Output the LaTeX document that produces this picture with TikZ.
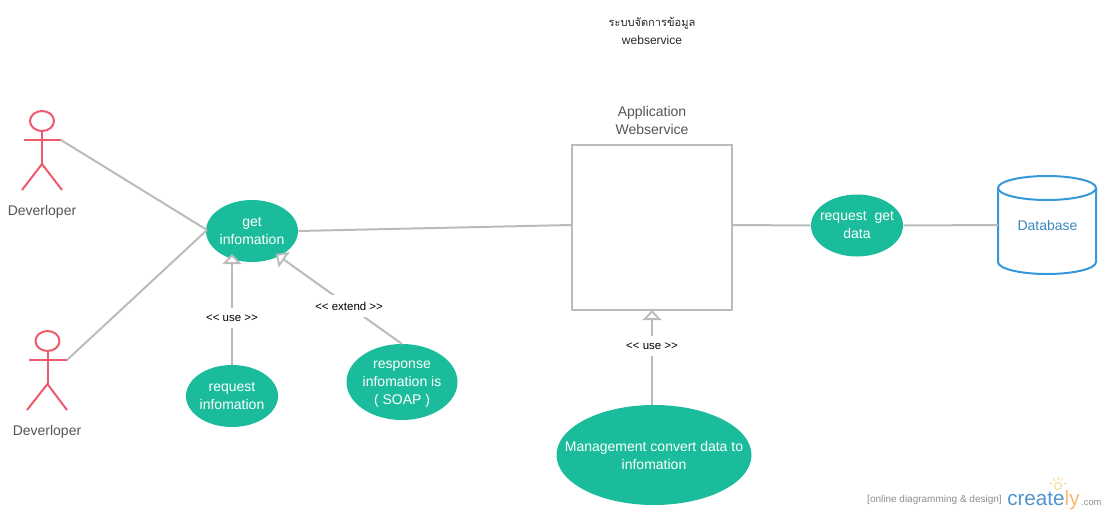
\documentclass[tikz,border=0pt]{standalone}
\usepackage{fontspec}
\setmainfont{Liberation Sans}
\newfontfamily\thaifont[Script=Thai]{Loma}
\usetikzlibrary{arrows.meta,shapes.geometric}
\definecolor{teal1}{HTML}{1ABC9C}
\definecolor{line1}{HTML}{BBBBBB}
\definecolor{actor1}{HTML}{EE5A6C}
\definecolor{blue1}{HTML}{3498DB}
\definecolor{dbtext}{HTML}{3A87BE}
\definecolor{txt1}{HTML}{555555}
\definecolor{logoblue}{HTML}{4F94CF}
\definecolor{logoorange}{HTML}{F9B96E}
\definecolor{bulb}{HTML}{F7D68C}
\tikzset{
  usecase/.style={ellipse,fill=teal1,inner xsep=-16pt,inner ysep=-6pt,text=white,align=center,font=\fontsize{10.5pt}{13.5pt}\selectfont},
  conn/.style={draw=line1,line width=1.5pt},
  gen/.style={conn,-{Triangle[open,fill=white,length=7.5pt,width=14pt,line width=1.4pt]}},
  actorline/.style={draw=actor1,line width=1.5pt},
  dbline/.style={draw=blue1,line width=1.5pt},
  caption/.style={text=txt1,align=center,font=\fontsize{10.5pt}{13.5pt}\selectfont},
  stereo/.style={fill=white,inner xsep=2pt,inner ysep=5pt,font=\fontsize{8.6pt}{10pt}\selectfont},
}
\begin{document}
\begin{tikzpicture}[x=0.75pt,y=-0.75pt]
\useasboundingbox (0,0) rectangle (1106,515);
% title
\node[align=center,font=\fontsize{9pt}{13.5pt}\selectfont,text=black!85] (title) at (652,30.5) {{\thaifont\fontsize{8.3pt}{13.5pt}\selectfont ระบบจัดการข้อมูล}\\webservice};
% use cases
\node[usecase,minimum width=92pt*0.75,minimum height=62pt*0.75] (get) at (252,231) {get\\infomation};
\node[usecase,minimum width=92pt*0.75,minimum height=62pt*0.75] (req) at (232,396) {request\\infomation};
\node[usecase,minimum width=111pt*0.75,minimum height=76pt*0.75] (resp) at (402,382) {\rule{0pt}{10.6pt}response\\infomation is\\( SOAP )\strut};
\node[usecase,minimum width=195pt*0.75,minimum height=100pt*0.75] (mgmt) at (654,455) {Management convert data to\\infomation};
\node[usecase,minimum width=92pt*0.75,minimum height=62pt*0.75] (rgd) at (857,225.5) {request\ \ get\\data};
% system box
\node[draw=line1,line width=1.5pt,minimum width=160pt*0.75,minimum height=165pt*0.75,inner sep=0pt] (app) at (652,227.5) {};
\node[caption] (applabel) at (652,120) {Application\\Webservice};
% database
\node[minimum width=98pt*0.75,minimum height=98pt*0.75,inner sep=0pt,text=dbtext,font=\fontsize{10.5pt}{13pt}\selectfont] (db) at (1047.5,225) {Database};
\draw[dbline] (998,188) arc[x radius=49,y radius=12,start angle=180,end angle=-180];
\draw[dbline] (998,188) -- (998,262) arc[x radius=49,y radius=12,start angle=180,end angle=0] -- (1096,188);
% actors
\node[draw=actor1,line width=1.5pt,ellipse,minimum width=24pt*0.75,minimum height=20pt*0.75,inner sep=0pt] (h1) at (42,121) {};
\coordinate (a1l) at (24,140); \coordinate (a1r) at (61,140);
\coordinate (hip1) at (42,164); \coordinate (fa1) at (22,190); \coordinate (fb1) at (62,190);
\draw[actorline] (h1.south) -- (hip1);
\draw[actorline] (a1l) -- (a1r);
\draw[actorline] (fa1) -- (hip1) -- (fb1);
\node[caption] (l1) at (42,212) {Deverloper};
\node[draw=actor1,line width=1.5pt,ellipse,minimum width=24pt*0.75,minimum height=20pt*0.75,inner sep=0pt] (h2) at (47.5,341) {};
\coordinate (a2l) at (29,360); \coordinate (a2r) at (67,360);
\coordinate (hip2) at (47.5,384); \coordinate (fa2) at (27,410); \coordinate (fb2) at (67,410);
\draw[actorline] (h2.south) -- (hip2);
\draw[actorline] (a2l) -- (a2r);
\draw[actorline] (fa2) -- (hip2) -- (fb2);
\node[caption] (l2) at (47,432) {Deverloper};
% connectors
\coordinate (g1) at (207,230);
\draw[conn] (a1r) -- (g1);
\draw[conn] (a2r) -- (g1);
\coordinate (appw) at (app.west|-0,225);
\coordinate (appe) at (app.east|-0,225);
\draw[conn] (get.east) -- (appw);
\draw[conn] (appe) -- (rgd.west);
\coordinate (dbw) at (998,225);
\draw[conn] (rgd.east) -- (dbw);
% generalisations
\coordinate (t1) at (232,254);
\coordinate (t2) at (276,254);
\coordinate (s2) at (402,344);
\coordinate (t3) at (652,310);
\coordinate (s3) at (652,405);
\coordinate (s1) at (232,365);
\draw[gen] (s1) -- node[stereo,pos=0.42] (uselbl1) {<{}< use >{}>} (t1);
\draw[gen] (s2) -- node[stereo,pos=0.42] (extlbl) {<{}< extend >{}>} (t2);
\draw[gen] (s3) -- node[stereo,pos=0.62] (uselbl2) {<{}< use >{}>} (t3);
% branding
\node[anchor=east,text=black!45,font=\fontsize{7.5pt}{9pt}\selectfont,inner sep=0pt] (brand) at (1002,500) {[online diagramming \& design]};
\node[anchor=base west,inner sep=0pt,font=\fontsize{15.5pt}{18pt}\selectfont,text=logoblue] (logo) at (1007,505) {create\textcolor{logoorange}{ly}};
\node[anchor=base west,inner sep=0pt,text=black!45,font=\fontsize{7pt}{9pt}\selectfont] (com) at (1081,505) {.com};
\draw[bulb,line width=0.7pt] (1058,486) circle[radius=3.5];
\foreach \a in {20,60,90,120,160}{\draw[bulb,line width=0.7pt] (1058,486) ++(-\a:6) -- ++(-\a:3);}
\end{tikzpicture}
\end{document}
